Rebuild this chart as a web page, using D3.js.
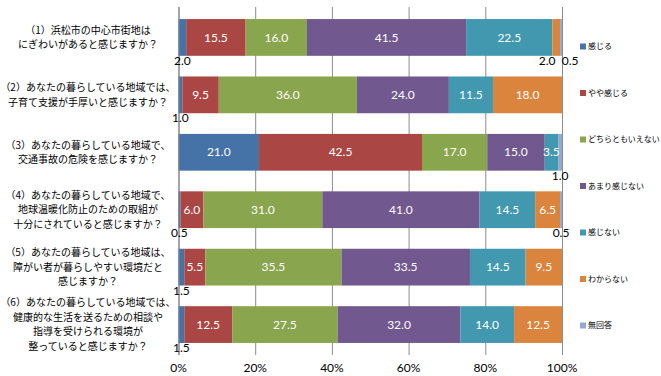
<!DOCTYPE html>
<html lang="ja">
<head>
<meta charset="UTF-8">
<script src="https://cdn.jsdelivr.net/npm/d3@7"></script>
<title>chart</title>
<style>
    body { margin: 0; background: #fff; }
    .qlabel { font-family: "Noto Sans CJK JP", sans-serif; font-size: 10px; fill: #000; }
    .legend text { font-family: "Noto Sans CJK JP", sans-serif; font-size: 8px; fill: #000; }
    .num { font-family: Lato, "Liberation Sans", sans-serif; font-size: 12px; }
</style>
</head>
<body>
<script>
    // 設問（折り返し済み）
    var questions = [
        ["（1）浜松市の中心市街地は", "にぎわいがあると感じますか？"],
        ["（2）あなたの暮らしている地域では、", "子育て支援が手厚いと感じますか？"],
        ["（3）あなたの暮らしている地域で、", "交通事故の危険を感じますか？"],
        ["（4）あなたの暮らしている地域で、", "地球温暖化防止のための取組が", "十分にされていると感じますか？"],
        ["（5）あなたの暮らしている地域は、", "障がい者が暮らしやすい環境だと", "感じますか？"],
        ["（6）あなたの暮らしている地域では、", "健康的な生活を送るための相談や", "指導を受けられる環境が", "整っていると感じますか？"]
    ];

    var categories = ["感じる", "やや感じる", "どちらともいえない", "あまり感じない", "感じない", "わからない", "無回答"];
    var colors = ["#4572A7", "#AA4643", "#89A54E", "#71588F", "#4198AF", "#DB843D", "#93A9CF"];

    // 各回答の割合（%）、設問(1)〜(6)の順
    var kanjiru      = [2.0, 1.0, 21.0, 0.5, 1.5, 1.5];
    var yayaKanjiru  = [15.5, 9.5, 42.5, 6.0, 5.5, 12.5];
    var dochiramo    = [16.0, 36.0, 17.0, 31.0, 35.5, 27.5];
    var amari        = [41.5, 24.0, 15.0, 41.0, 33.5, 32.0];
    var kanjinai     = [22.5, 11.5, 3.5, 14.5, 14.5, 14.0];
    var wakaranai    = [2.0, 18.0, 0.0, 6.5, 9.5, 12.5];
    var mukaitou     = [0.5, 0.0, 1.0, 0.5, 0.0, 0.0];

    var tickLabels = ["0%", "20%", "40%", "60%", "80%", "100%"];

    var series = [kanjiru, yayaKanjiru, dochiramo, amari, kanjinai, wakaranai, mukaitou];
    var rows = questions.map(function(q, i) {
        var r = { idx: i };
        categories.forEach(function(c, j) { r[c] = series[j][i]; });
        return r;
    });

    var width = 661, height = 376;
    var svg = d3.select("body").append("svg")
        .attr("width", width).attr("height", height);

    var x = d3.scaleLinear().domain([0, 100]).range([178.5, 562]);
    var y = d3.scaleBand().domain(d3.range(questions.length))
        .range([7, 355]).paddingInner(0.36).paddingOuter(0.21);
    var color = d3.scaleOrdinal().domain(categories).range(colors);

    // グリッド
    svg.append("g").selectAll("line")
        .data(d3.range(0, 101, 20))
        .enter().append("line")
        .attr("x1", function(d) { return x(d) + 0.5; })
        .attr("x2", function(d) { return x(d) + 0.5; })
        .attr("y1", 7).attr("y2", 355)
        .attr("stroke", "#8c8c8c").attr("stroke-width", 1);

    var stacked = d3.stack().keys(categories)(rows);

    var layers = svg.append("g").selectAll("g")
        .data(stacked).enter().append("g")
        .attr("fill", function(d) { return color(d.key); });

    layers.selectAll("rect")
        .data(function(d) { return d; })
        .enter().append("rect")
        .attr("x", function(d) { return x(d[0]); })
        .attr("width", function(d) { return x(d[1]) - x(d[0]); })
        .attr("y", function(d) { return y(d.data.idx); })
        .attr("height", y.bandwidth());

    // 左軸
    svg.append("line")
        .attr("x1", x(0) + 0.5).attr("x2", x(0) + 0.5)
        .attr("y1", 7).attr("y2", 355)
        .attr("stroke", "#868686");

    // ラベル
    var inside = [], below = [];
    stacked.forEach(function(layer) {
        layer.forEach(function(d) {
            var v = d[1] - d[0];
            if (v <= 0) return;
            var item = { v: v, row: d.data.idx, cx: x((d[0] + d[1]) / 2) };
            if (v >= 3) inside.push(item); else below.push(item);
        });
    });

    // 下側ラベルの重なりを避ける
    d3.groups(below, function(d) { return d.row; }).forEach(function(g) {
        var items = g[1].sort(function(a, b) { return a.cx - b.cx; });
        for (var i = 1; i < items.length; i++) {
            var gap = items[i].cx - items[i - 1].cx;
            if (gap < 23) {
                var shift = (23 - gap) / 2;
                items[i - 1].cx -= shift;
                items[i].cx += shift;
            }
        }
    });

    svg.append("g").selectAll("text")
        .data(inside).enter().append("text")
        .attr("class", "num")
        .attr("x", function(d) { return d.cx; })
        .attr("y", function(d) { return y(d.row) + y.bandwidth() / 2; })
        .attr("dy", "0.35em")
        .attr("text-anchor", "middle")
        .attr("fill", "#fff")
        .text(function(d) { return d.v.toFixed(1); });

    svg.append("g").selectAll("text")
        .data(below).enter().append("text")
        .attr("class", "num")
        .attr("x", function(d) { return d.cx; })
        .attr("y", function(d) { return y(d.row) + y.bandwidth() + 9; })
        .attr("text-anchor", "middle")
        .attr("fill", "#000")
        .text(function(d) { return d.v.toFixed(1); });

    // 設問ラベル
    var lineH = 14.5;
    var qg = svg.append("g").selectAll("text")
        .data(questions).enter().append("text")
        .attr("class", "qlabel")
        .attr("text-anchor", "middle");
    qg.selectAll("tspan")
        .data(function(d, i) {
            return d.map(function(t, k) { return { t: t, k: k, n: d.length, i: i }; });
        })
        .enter().append("tspan")
        .attr("x", 88)
        .attr("y", function(d) {
            return y(d.i) + y.bandwidth() / 2 + (d.k - (d.n - 1) / 2) * lineH;
        })
        .attr("dy", "0.35em")
        .text(function(d) { return d.t; });

    // X軸目盛
    svg.append("g").selectAll("text")
        .data(tickLabels).enter().append("text")
        .attr("class", "num")
        .attr("x", function(d, i) { return x(i * 20); })
        .attr("y", 372)
        .attr("text-anchor", "middle")
        .attr("fill", "#000")
        .text(function(d) { return d; });

    // 凡例
    var ly = d3.scalePoint().domain(categories).range([46.5, 325.5]);
    var lg = svg.append("g").attr("class", "legend").selectAll("g")
        .data(categories).enter().append("g")
        .attr("transform", function(d) { return "translate(580," + ly(d) + ")"; });
    lg.append("rect")
        .attr("x", 0).attr("y", -3).attr("width", 6).attr("height", 6)
        .attr("fill", function(d) { return color(d); });
    lg.append("text")
        .attr("x", 8).attr("dy", "0.35em")
        .text(function(d) { return d; });
</script>
</body>
</html>
